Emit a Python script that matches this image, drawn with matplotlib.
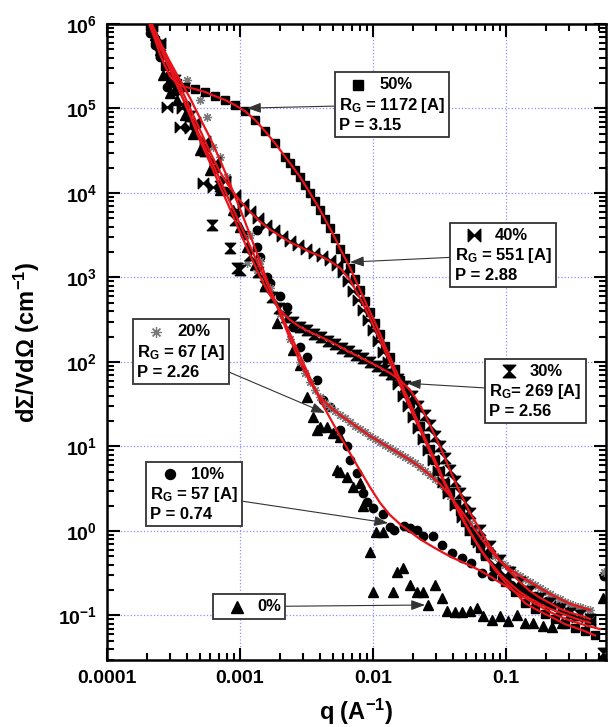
import matplotlib
matplotlib.use('Agg')
import matplotlib.pyplot as plt
from matplotlib.path import Path
from matplotlib.lines import Line2D
from matplotlib.ticker import LogLocator, NullFormatter
from matplotlib.offsetbox import AnnotationBbox, VPacker, HPacker, TextArea, DrawingArea

plt.rcParams['font.family'] = ['Liberation Sans', 'DejaVu Sans']
plt.rcParams['font.weight'] = 'bold'
plt.rcParams['mathtext.fontset'] = 'custom'
plt.rcParams['mathtext.rm'] = 'Liberation Sans:bold'
plt.rcParams['mathtext.it'] = 'Liberation Sans:bold'
plt.rcParams['mathtext.bf'] = 'Liberation Sans:bold'
plt.rcParams['mathtext.default'] = 'bf'

# ---------------- data ----------------
# 50 % (squares)
q50 = [2.10e-4, 2.30e-4, 2.50e-4, 2.73e-4, 2.98e-4, 3.36e-4, 3.86e-4, 4.59e-4, 5.45e-4, 6.49e-4,
       7.72e-4, 9.17e-4, 1.09e-3, 1.30e-3, 1.54e-3, 1.83e-3, 2.18e-3, 2.38e-3, 2.59e-3, 2.83e-3,
       3.08e-3, 3.36e-3, 3.66e-3, 4.0e-3, 4.36e-3, 4.75e-3, 5.18e-3, 5.65e-3, 6.16e-3, 6.72e-3,
       7.33e-3, 7.99e-3, 8.71e-3, 9.49e-3, 0.0104, 0.0113, 0.0123, 0.0134, 0.0147, 0.016,
       0.0174, 0.019, 0.0207, 0.0226, 0.0246, 0.0268, 0.0293, 0.0319, 0.0348, 0.0379,
       0.0414, 0.0451, 0.0492, 0.0536, 0.0585, 0.0638, 0.0696, 0.0827, 0.098, 0.117,
       0.139, 0.165, 0.197, 0.234, 0.278, 0.330, 0.393, 0.467]
I50 = [9.5e5, 6.5e5, 4.4e5, 3.2e5, 2.4e5, 1.98e5, 1.8e5, 1.7e5, 1.57e5, 1.4e5,
       1.26e5, 1.1e5, 9.3e4, 7.3e4, 5.4e4, 3.9e4, 2.7e4, 2.25e4, 1.87e4, 1.54e4,
       1.25e4, 1.0e4, 8.0e3, 6.3e3, 4.9e3, 3.8e3, 2.93e3, 2.2e3, 1.7e3, 1.3e3,
       960, 711, 525, 390, 290, 215, 155, 115, 82, 61,
       44, 32.5, 23.6, 17.3, 12.6, 9.3, 6.9, 5.1, 3.7, 2.9,
       2.1, 1.7, 1.26, 1.0, 0.78, 0.63, 0.50, 0.345, 0.25, 0.19,
       0.14, 0.12, 0.104, 0.091, 0.079, 0.072, 0.065, 0.058]

# 40 % (bow ties)
q40 = [2.18e-4, 2.5e-4, 2.83e-4, 3.66e-4, 3.54e-4, 4.21e-4, 4.6e-4, 5.27e-4, 6.27e-4, 5.5e-4,
       6.5e-4, 7.7e-4, 9.17e-4, 1.05e-3, 1.19e-3, 1.36e-3, 1.57e-3, 1.80e-3, 2.07e-3, 2.38e-3,
       2.73e-3, 3.13e-3, 3.6e-3, 4.14e-3, 4.75e-3, 5.36e-3, 5.94e-3, 6.49e-3, 7.08e-3, 7.71e-3,
       8.41e-3, 9.17e-3, 0.0100, 0.0109, 0.0119, 0.0130, 0.0141, 0.0154, 0.0168, 0.0183,
       0.0200, 0.0218, 0.0238, 0.0259, 0.0283, 0.0308, 0.0336, 0.0367, 0.0414, 0.0467,
       0.0536, 0.0615, 0.0708, 0.0827, 0.098, 0.117, 0.139, 0.171, 0.214, 0.268, 0.342, 0.428]
I40 = [9.5e5, 6.0e5, 1.04e5, 1.0e5, 6.0e4, 5.8e4, 7.0e4, 1.31e4, 1.17e4, 4.1e4,
       2.3e4, 1.4e4, 9.5e3, 7.4e3, 6.1e3, 5.0e3, 4.2e3, 3.6e3, 3.1e3, 2.7e3,
       2.43e3, 2.2e3, 1.97e3, 1.8e3, 1.61e3, 1.4e3, 1.15e3, 900, 700, 542,
       412, 314, 239, 178, 131, 100, 73, 55, 40, 30,
       22.6, 16.5, 12.3, 9.1, 6.9, 5.1, 3.8, 2.8, 2.03, 1.47,
       1.03, 0.75, 0.55, 0.40, 0.30, 0.23, 0.185, 0.153, 0.128, 0.111, 0.097, 0.085]
q40_fit = [2.18e-4, 2.50e-4, 2.98e-4, 3.54e-4, 4.21e-4, 5.0e-4, 5.95e-4, 7.08e-4, 8.41e-4, 1.0e-3,
           1.19e-3, 1.41e-3, 1.68e-3, 2.0e-3, 2.38e-3, 2.83e-3, 3.36e-3, 4.0e-3, 4.75e-3, 5.65e-3,
           6.72e-3, 7.99e-3, 9.49e-3, 0.0113, 0.0134, 0.016, 0.019, 0.0226, 0.0268, 0.0319,
           0.0379, 0.0451, 0.0536, 0.0638, 0.0759, 0.090, 0.107, 0.127, 0.151, 0.180,
           0.214, 0.255, 0.303, 0.360, 0.428]
I40_fit = [1.0e6, 6.1e5, 3.35e5, 1.85e5, 1.0e5, 5.6e4, 3.05e4, 1.77e4, 1.15e4, 8.1e3,
           6.0e3, 4.6e3, 3.7e3, 3.1e3, 2.6e3, 2.3e3, 2.0e3, 1.8e3, 1.56e3, 1.3e3,
           933, 570, 330, 182, 100, 53.5, 28.5, 15.7, 8.6, 4.7,
           2.67, 1.55, 0.96, 0.61, 0.43, 0.31, 0.24, 0.19, 0.16, 0.137,
           0.12, 0.108, 0.097, 0.0885, 0.082]

# 30 % (hourglasses)
q30 = [2.5e-4, 3.24e-4, 4.21e-4, 5.45e-4, 6.15e-4, 7.08e-4, 8.41e-4, 9.17e-4, 9.5e-4, 1.0e-3,
       1.19e-3, 1.36e-3, 1.54e-3, 1.74e-3, 1.96e-3, 2.22e-3, 2.50e-3, 2.83e-3, 3.19e-3, 3.6e-3,
       4.07e-3, 4.6e-3, 5.18e-3, 5.85e-3, 6.6e-3, 7.45e-3, 8.41e-3, 9.49e-3, 0.0107, 0.0121,
       0.0137, 0.0154, 0.0174, 0.0196, 0.0218, 0.0246, 0.0268, 0.0293, 0.0319, 0.0348,
       0.0379, 0.0414, 0.0451, 0.0492, 0.0536, 0.0638, 0.0759, 0.090, 0.107, 0.127,
       0.151, 0.180, 0.214, 0.255, 0.303, 0.360, 0.428, 0.54]
I30 = [5.65e5, 2.17e5, 8.2e4, 3.1e4, 4.2e3, 1.2e4, 2.23e3, 4.8e3, 1.3e3, 1.23e3,
       1.85e3, 1.17e3, 790, 580, 435, 345, 295, 262, 240, 215,
       200, 178, 165, 145, 135, 121, 110, 99, 89, 80,
       72, 63, 52, 40, 30, 23.6, 18, 13.3, 10, 7.3,
       5.27, 3.9, 2.85, 2.2, 1.65, 1.03, 0.66, 0.45, 0.33, 0.25,
       0.195, 0.162, 0.14, 0.12, 0.108, 0.10, 0.091, 0.036]
q30_fit = [2.14e-4, 2.50e-4, 2.98e-4, 3.54e-4, 4.21e-4, 5.0e-4, 5.95e-4, 7.08e-4, 8.41e-4, 1.0e-3,
           1.19e-3, 1.41e-3, 1.68e-3, 2.0e-3, 2.38e-3, 2.83e-3, 3.36e-3, 4.0e-3, 4.75e-3, 5.65e-3,
           6.72e-3, 7.99e-3, 9.49e-3, 0.0113, 0.0134, 0.016, 0.019, 0.0226, 0.0268, 0.0319,
           0.0379, 0.0451, 0.0536, 0.0638, 0.0759, 0.090, 0.107, 0.127, 0.151, 0.180,
           0.214, 0.255, 0.303, 0.360, 0.428]
I30_fit = [1.0e6, 5.65e5, 3.0e5, 1.57e5, 8.2e4, 4.2e4, 2.27e4, 1.2e4, 6.5e3, 3.45e3,
           1.85e3, 1.03e3, 620, 412, 314, 260, 225, 200, 175, 152,
           130, 114, 99, 86, 74, 61, 46.6, 31, 18, 10,
           5.27, 2.85, 1.65, 1.03, 0.66, 0.45, 0.33, 0.25, 0.195, 0.162,
           0.14, 0.12, 0.108, 0.10, 0.091]

# 20 % (asterisks)
q20 = [3.13e-4, 4.0e-4, 5.0e-4, 5.65e-4, 6.27e-4, 7.08e-4, 8.0e-4, 1.13e-3, 1.34e-3, 1.19e-3,
       1.41e-3, 1.68e-3, 2.0e-3, 2.38e-3, 2.83e-3, 3.08e-3, 3.36e-3, 3.66e-3, 4.0e-3, 4.36e-3,
       4.75e-3, 5.18e-3, 5.65e-3, 6.16e-3, 6.72e-3, 7.33e-3, 7.99e-3, 8.71e-3, 9.49e-3, 0.0104,
       0.0113, 0.0123, 0.0134, 0.0147, 0.016, 0.0174, 0.019, 0.0207, 0.0226, 0.0246,
       0.0268, 0.0293, 0.0319, 0.0348, 0.0379, 0.0414, 0.0451, 0.0492, 0.0536, 0.0585,
       0.0638, 0.0696, 0.0759, 0.0827, 0.090, 0.098, 0.107, 0.117, 0.127, 0.139,
       0.151, 0.165, 0.180, 0.197, 0.214, 0.234, 0.255, 0.278, 0.303, 0.330,
       0.360, 0.393, 0.428, 0.545]
I20 = [2.36e5, 2.17e5, 1.26e5, 7.9e4, 3.5e4, 2.7e4, 1.55e4, 1.5e3, 1.23e3, 3.2e3,
       1.57e3, 750, 370, 187, 100, 74, 58, 46.6, 38.5, 33,
       29.3, 26, 23.6, 21.5, 19.5, 17.5, 16.1, 14.7, 13.3, 12.4,
       11.3, 10.4, 9.6, 8.8, 8.15, 7.5, 6.9, 6.3, 5.7, 5.1,
       4.6, 4.1, 3.6, 3.1, 2.6, 2.2, 1.82, 1.5, 1.25, 1.03,
       0.85, 0.72, 0.60, 0.51, 0.44, 0.40, 0.355, 0.32, 0.293, 0.27,
       0.249, 0.23, 0.211, 0.195, 0.18, 0.165, 0.157, 0.145, 0.137, 0.13,
       0.126, 0.12, 0.116, 0.33]
q20_fit = [2.10e-4, 2.50e-4, 2.98e-4, 3.54e-4, 4.21e-4, 5.0e-4, 5.95e-4, 7.08e-4, 8.41e-4, 1.0e-3,
           1.19e-3, 1.41e-3, 1.68e-3, 2.0e-3, 2.38e-3, 2.83e-3, 3.36e-3, 4.0e-3, 4.75e-3, 5.65e-3,
           6.72e-3, 7.99e-3, 9.49e-3, 0.0113, 0.0134, 0.016, 0.019, 0.0226, 0.0268, 0.0319,
           0.0379, 0.0451, 0.0536, 0.0638, 0.0759, 0.090, 0.107, 0.127, 0.151, 0.180,
           0.214, 0.255, 0.303, 0.360, 0.428]
I20_fit = [1.0e6, 6.1e5, 3.55e5, 2.17e5, 1.33e5, 7.7e4, 4.5e4, 2.46e4, 1.28e4, 6.5e3,
           3.2e3, 1.57e3, 750, 370, 187, 100, 58, 38.5, 29.3, 23.6,
           19.5, 16.1, 13.3, 11.3, 9.6, 8.15, 6.9, 5.7, 4.6, 3.6,
           2.6, 1.82, 1.25, 0.85, 0.60, 0.44, 0.355, 0.293, 0.249, 0.211,
           0.18, 0.157, 0.137, 0.126, 0.116]

# 10 % (circles)
q10 = [2.10e-4, 2.30e-4, 2.50e-4, 2.83e-4, 3.0e-4, 3.3e-4, 3.9e-4, 4.6e-4, 5.5e-4, 6.5e-4,
       7.7e-4, 9.2e-4, 1.09e-3, 1.34e-3, 1.34e-3, 1.41e-3, 1.60e-3, 1.68e-3, 2.0e-3, 2.26e-3,
       2.5e-3, 2.83e-3, 3.19e-3, 3.79e-3, 4.2e-3, 4.75e-3, 5.65e-3, 6.38e-3, 6.72e-3, 7.58e-3,
       8.4e-3, 9.0e-3, 0.0100, 0.0119, 0.0134, 0.0145, 0.0172, 0.0190, 0.0214, 0.0238,
       0.0283, 0.0330, 0.0395, 0.0465, 0.0550, 0.0660, 0.078, 0.093, 0.110, 0.135,
       0.165, 0.205, 0.26, 0.545]
I10 = [7.8e5, 5.6e5, 4.1e5, 1.8e5, 2.0e5, 1.6e5, 1.1e5, 6.4e4, 3.4e4, 1.9e4,
       1.05e4, 5.8e3, 3.2e3, 3.65e3, 2.3e3, 1.75e3, 1.0e3, 850, 600, 450,
       260, 150, 115, 61, 35.5, 29, 15.7, 10.0, 6.9, 4.9,
       2.8, 2.2, 1.87, 1.6, 1.1, 1.03, 1.13, 1.08, 1.03, 0.86,
       0.87, 0.68, 0.55, 0.48, 0.42, 0.32, 0.29, 0.275, 0.23, 0.2,
       0.17, 0.15, 0.135, 0.29]
q10_fit = [2.10e-4, 2.50e-4, 2.98e-4, 3.54e-4, 4.21e-4, 5.0e-4, 5.95e-4, 7.08e-4, 8.41e-4, 1.0e-3,
           1.19e-3, 1.41e-3, 1.68e-3, 2.0e-3, 2.38e-3, 2.83e-3, 3.36e-3, 4.0e-3, 4.75e-3, 5.65e-3,
           6.72e-3, 7.99e-3, 9.49e-3, 0.0113, 0.0134, 0.016, 0.019, 0.0226, 0.0268, 0.0319,
           0.0379, 0.0451, 0.0536, 0.0638, 0.0759, 0.090, 0.107, 0.127, 0.151, 0.180,
           0.214, 0.255, 0.303, 0.360, 0.428, 0.509]
I10_fit = [1.0e6, 5.3e5, 2.86e5, 1.57e5, 8.6e4, 4.7e4, 2.6e4, 1.43e4, 7.8e3, 4.3e3,
           2.35e3, 1.3e3, 711, 390, 215, 118, 65, 35.5, 21.7, 13.3,
           8.3, 5.2, 3.3, 2.15, 1.55, 1.2, 0.98, 0.8, 0.68, 0.58,
           0.50, 0.44, 0.39, 0.34, 0.29, 0.245, 0.21, 0.175, 0.15, 0.128,
           0.11, 0.097, 0.087, 0.08, 0.074, 0.069]

# 0 % (triangles, no fit)
q0 = [2.3e-4, 2.5e-4, 2.64e-4, 2.98e-4, 3.36e-4, 3.86e-4, 4.4e-4, 5.0e-4, 5.95e-4, 7.08e-4,
      8.87e-4, 1.0e-3, 1.13e-3, 1.30e-3, 1.54e-3, 1.90e-3, 2.5e-3, 2.83e-3, 3.19e-3, 3.54e-3,
      3.79e-3, 4.0e-3, 4.51e-3, 5.0e-3, 5.65e-3, 5.36e-3, 5.65e-3, 6.38e-3, 7.08e-3, 7.99e-3,
      8.4e-3, 9.49e-3, 0.0106, 0.0119, 0.0100, 0.0141, 0.0151, 0.0168, 0.0190, 0.0214,
      0.0238, 0.0293, 0.0330, 0.0260, 0.0360, 0.0414, 0.0467, 0.0536, 0.0605, 0.067,
      0.078, 0.090, 0.104, 0.121, 0.139, 0.159, 0.19, 0.22, 0.262, 0.54]
I0 = [7.4e5, 4.9e5, 2.5e5, 1.53e5, 1.26e5, 8.4e4, 5.0e4, 3.2e4, 1.87e4, 1.09e4,
      6.3e3, 4.0e3, 2.3e3, 1.4e3, 810, 290, 139, 92, 38, 22.6,
      15.7, 17, 17, 14.4, 12.9, 5.27, 5.0, 4.4, 3.3, 3.7,
      2.0, 0.56, 0.96, 0.96, 0.19, 0.19, 0.33, 0.36, 0.23, 0.19,
      0.19, 0.23, 0.16, 0.133, 0.113, 0.11, 0.11, 0.113, 0.124, 0.098,
      0.0885, 0.098, 0.085, 0.101, 0.082, 0.082, 0.075, 0.073, 0.082, 0.16]

# annotation texts
pct_labels = ['50%', '40%', '30%', '20%', '10%', '0%']
rg_labels = ['R$_G$ = 1172 [A]', 'R$_G$ = 551 [A]', 'R$_G$= 269 [A]', 'R$_G$ = 67 [A]', 'R$_G$ = 57 [A]']
p_labels = ['P = 3.15', 'P = 2.88', 'P = 2.56', 'P = 2.26', 'P = 0.74']

y_ticks = [1e-1, 1e0, 1e1, 1e2, 1e3, 1e4, 1e5, 1e6]
y_ticklabels = ['$10^{-1}$', '$10^{0}$', '$10^{1}$', '$10^{2}$', '$10^{3}$', '$10^{4}$', '$10^{5}$', '$10^{6}$']
x_ticks = [1e-4, 1e-3, 1e-2, 1e-1]
x_ticklabels = ['0.0001', '0.001', '0.01', '0.1']

# ---------------- markers ----------------
bowtie = Path([(-1, -1), (-1, 1), (0, 0), (1, 1), (1, -1), (0, 0), (-1, -1)], closed=True)
hourglass = Path([(-1, 1), (1, 1), (0, 0), (1, -1), (-1, -1), (0, 0), (-1, 1)], closed=True)
red = '#e8141b'

styles = {
    '50%': dict(marker='s', ms=6, color='k', mec='k'),
    '40%': dict(marker=bowtie, ms=7.5, color='k', mec='k'),
    '30%': dict(marker=hourglass, ms=7.5, color='k', mec='k'),
    '20%': dict(marker=(8, 2, 0), ms=6.5, color='#7a7a7a', mec='#7a7a7a', mew=0.9),
    '10%': dict(marker='o', ms=6, color='k', mec='k'),
    '0%': dict(marker='^', ms=7, color='k', mec='k'),
}

fig = plt.figure(figsize=(6.08, 7.27), dpi=100)
ax = fig.add_axes([107 / 608, 67 / 727, 499 / 608, 636 / 727])
ax.set_xscale('log')
ax.set_yscale('log')

ax.plot(q0, I0, ls='none', zorder=2, **styles['0%'])
ax.plot(q10, I10, ls='none', zorder=2, **styles['10%'])
ax.plot(q20, I20, ls='none', zorder=2, **styles['20%'])
ax.plot(q30, I30, ls='none', zorder=2, **styles['30%'])
ax.plot(q40, I40, ls='none', zorder=2, **styles['40%'])
ax.plot(q50, I50, ls='none', zorder=2, **styles['50%'])

for qf, If in [(q10_fit, I10_fit), (q20_fit, I20_fit), (q30_fit, I30_fit),
               (q40_fit, I40_fit), (q50, I50)]:
    ax.plot(qf, If, color=red, lw=1.6, zorder=3)

ax.set_xlim(1e-4, 0.565)
ax.set_ylim(0.0297, 1e6)
ax.set_xticks(x_ticks, x_ticklabels)
ax.set_yticks(y_ticks, y_ticklabels)
ax.xaxis.set_minor_locator(LogLocator(base=10, subs=(2, 3, 4, 5, 6, 7, 8, 9), numticks=50))
ax.yaxis.set_minor_locator(LogLocator(base=10, subs=(2, 3, 4, 5, 6, 7, 8, 9), numticks=50))
ax.xaxis.set_minor_formatter(NullFormatter())
ax.yaxis.set_minor_formatter(NullFormatter())
ax.tick_params(which='both', direction='in', top=True, right=True, width=1.5)
ax.tick_params(which='major', length=9, labelsize=14, pad=7)
ax.tick_params(which='minor', length=5)
for s in ax.spines.values():
    s.set_linewidth(1.8)
ax.grid(True, which='major', color='#8f8fff', ls=':', lw=0.9)
ax.set_axisbelow(True)

ax.set_xlabel('q (A$^{-1}$)', fontsize=17, fontweight='bold', labelpad=7)
ax.set_ylabel('d\u03a3/Vd\u03a9 (cm$^{-1}$)', fontsize=17, fontweight='bold', labelpad=12)

# ---------------- annotation boxes ----------------
tp = dict(fontsize=12, fontweight='bold', color='k')


def label_box(key, lines):
    da = DrawingArea(22, 12, 0, 0)
    st = dict(styles[key])
    st['ms'] = st['ms'] * 1.2
    da.add_artist(Line2D([14], [6], ls='none', **st))
    row = HPacker(children=[da, TextArea(key, textprops=tp)], align='center', pad=0, sep=7)
    rows = [row] + [TextArea(t, textprops=tp) for t in lines]
    return VPacker(children=rows, align='left', pad=0, sep=2)


def annotate(box, xy, xybox):
    ab = AnnotationBbox(box, xy, xycoords='data', xybox=xybox, boxcoords='axes fraction',
                        box_alignment=(0.5, 0.5), pad=0.3, frameon=True,
                        bboxprops=dict(ec='#333333', lw=1.3, fc='white'),
                        arrowprops=dict(arrowstyle='-|>,head_length=0.6,head_width=0.22',
                                        color='#333333', lw=0.8, shrinkA=0, shrinkB=0),
                        zorder=6)
    ax.add_artist(ab)


annotate(label_box('50%', [rg_labels[0], p_labels[0]]), (1.13e-3, 1.01e5), (0.571, 0.873))
annotate(label_box('40%', [rg_labels[1], p_labels[1]]), (6.72e-3, 1.52e3), (0.794, 0.637))
annotate(label_box('30%', [rg_labels[2], p_labels[2]]), (0.018, 56), (0.859, 0.423))
annotate(label_box('20%', [rg_labels[3], p_labels[3]]), (4.36e-3, 24.9), (0.148, 0.485))
annotate(label_box('10%', [rg_labels[4], p_labels[4]]), (0.013, 1.24), (0.175, 0.261))
annotate(label_box('0%', []), (0.0246, 0.133), (0.285, 0.084))

fig.savefig('out.png', dpi=100)
